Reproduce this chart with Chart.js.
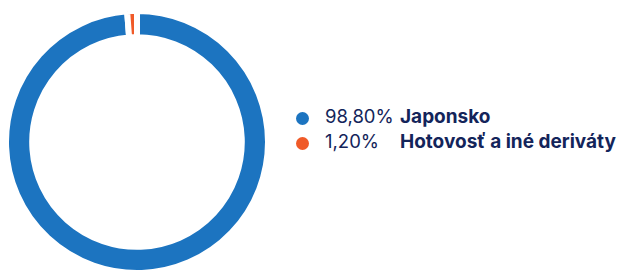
<!DOCTYPE html>
<html>
<head>
<meta charset="utf-8">
<script src="https://cdn.jsdelivr.net/npm/chart.js@4/dist/chart.umd.min.js"></script>
<style>
  html, body { margin: 0; padding: 0; background: #fff; width: 617px; height: 271px; overflow: hidden; }
  #wrap { position: absolute; left: 3px; top: 8px; width: 268px; height: 268px; }
  #legend { position: absolute; left: 296px; top: 104px; font-family: Inter, "Open Sans", sans-serif; color: #13245a; font-size: 19px; }
  .row { position: relative; height: 25px; line-height: 25px; white-space: nowrap; }
  .dot { position: absolute; left: 0px; top: 8px; width: 13px; height: 13px; border-radius: 50%; }
  .val { position: absolute; left: 29px; top: 0; font-weight: 400; font-size: 18.5px; }
  .lab { position: absolute; left: 104px; top: 0; font-weight: 700; }
</style>
</head>
<body>
<div id="wrap"><canvas id="c"></canvas></div>
<div id="legend"></div>
<script>
const categories = ["Japonsko", "Hotovosť a iné deriváty"];
const values = [98.80, 1.20];
const valueLabels = ["98,80%", "1,20%"];
const colors = ["#1c74c0", "#f05a28"];

new Chart(document.getElementById('c'), {
  type: 'doughnut',
  data: {
    labels: categories,
    datasets: [{
      data: values,
      backgroundColor: colors,
      borderColor: '#ffffff',
      borderWidth: 6,
      hoverOffset: 0
    }]
  },
  options: {
    responsive: true,
    maintainAspectRatio: false,
    animation: false,
    cutout: '80%',
    layout: { padding: 0 },
    plugins: { legend: { display: false }, tooltip: { enabled: false } }
  }
});

const legend = document.getElementById('legend');
categories.forEach((cat, i) => {
  const row = document.createElement('div');
  row.className = 'row';
  row.innerHTML = '<span class="dot" style="background:' + colors[i] + '"></span>' +
    '<span class="val">' + valueLabels[i] + '</span>' +
    '<span class="lab">' + cat + '</span>';
  legend.appendChild(row);
});
</script>
</body>
</html>
